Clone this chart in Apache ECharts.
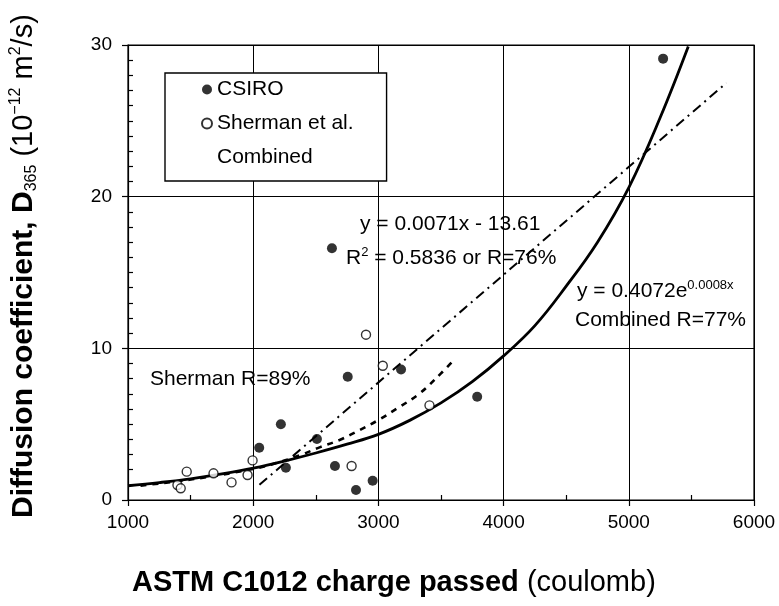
<!DOCTYPE html>
<html><head><meta charset="utf-8">
<script src="https://cdn.jsdelivr.net/npm/echarts@6/dist/echarts.min.js"></script>
<style>html,body{margin:0;padding:0;background:#fff}#chart{width:779px;height:606px}</style>
</head><body><div id="chart"></div>
<script>
// ---- data ----
const xTickValues = [1000, 2000, 3000, 4000, 5000, 6000];
const yTickValues = [0, 10, 20, 30];

const csiroX = [2048, 2221, 2261, 2509, 2629, 2653, 2755, 2821, 2954, 3181, 3789, 5274];
const csiroY = [3.45, 4.99, 2.13, 4.02, 16.6, 2.24, 8.13, 0.66, 1.27, 8.61, 6.81, 29.1];

const shermanX = [1395, 1421, 1469, 1683, 1827, 1955, 1995, 2786, 2901, 3035, 3408];
const shermanY = [0.99, 0.77, 1.87, 1.76, 1.16, 1.65, 2.61, 2.24, 10.9, 8.85, 6.24];

// Combined exponential trend (solid)
const combinedFitX = [1000, 1250, 1500, 1750, 2000, 2250, 2500, 2750, 3000, 3250, 3500, 3750, 4000, 4250, 4500, 4750, 5000, 5250, 5475];
const combinedFitY = [0.94, 1.15, 1.4, 1.72, 2.1, 2.57, 3.1, 3.68, 4.33, 5.25, 6.4, 7.8, 9.5, 11.5, 14.1, 17.0, 20.6, 25.2, 29.9];

// CSIRO linear trend (dash-dot)
const csiroFitX = [2050, 5780];
const csiroFitY = [1.0, 27.5];

// Sherman trend (dashed)
const shermanFitX = [1100, 1500, 2000, 2230, 2380, 2530, 2690, 2850, 3010, 3150, 3330, 3500, 3610];
const shermanFitY = [0.95, 1.35, 2.05, 2.55, 2.97, 3.47, 3.96, 4.61, 5.32, 6.04, 7.03, 8.35, 9.3];

const seriesNames = ['CSIRO', 'Sherman et al.', 'Combined'];

// ---- build ----
const FONT = "'Liberation Sans', Arial, Helvetica, sans-serif";
const zip = (xs, ys) => xs.map((x, i) => [x, ys[i]]);
const xMin = xTickValues[0], xMax = xTickValues[xTickValues.length - 1];
const xInt = xTickValues[1] - xTickValues[0];
const yMin = yTickValues[0], yMax = yTickValues[yTickValues.length - 1];
const yInt = yTickValues[1] - yTickValues[0];

const chart = echarts.init(document.getElementById('chart'), null, { renderer: 'canvas' });
const grid = { left: 128, right: 25, top: 45, bottom: 106, show: true, borderColor: '#000', borderWidth: 1.2, backgroundColor: 'transparent' };

const baseX = { type: 'value', min: xMin, max: xMax, interval: xInt, gridIndex: 0 };
const baseY = { type: 'value', min: yMin, max: yMax, interval: yInt, gridIndex: 0 };
const plain = v => String(v);

const option = {
  animation: false,
  backgroundColor: '#fff',
  grid: grid,
  xAxis: [
    Object.assign({}, baseX, {
      position: 'bottom',
      axisLine: { show: true, lineStyle: { color: '#000', width: 1.2 } },
      axisTick: { show: true, inside: false, length: 6, lineStyle: { color: '#000', width: 1.2 } },
      axisLabel: { color: '#000', fontSize: 19, fontFamily: FONT, margin: 13, formatter: plain },
      splitLine: { show: true, lineStyle: { color: '#000', width: 1 } }
    }),
    Object.assign({}, baseX, {
      position: 'bottom',
      axisLine: { show: false },
      axisTick: { show: false, inside: true },
      axisLabel: { show: false },
      splitLine: { show: false },
      minorTick: { show: true, splitNumber: 2, length: 5, lineStyle: { color: '#000', width: 1.2 } }
    })
  ],
  yAxis: [
    Object.assign({}, baseY, {
      position: 'left',
      axisLine: { show: true, lineStyle: { color: '#000', width: 1.2 } },
      axisTick: { show: true, inside: false, length: 6, lineStyle: { color: '#000', width: 1.2 } },
      axisLabel: { color: '#000', fontSize: 19, fontFamily: FONT, margin: 16, formatter: plain },
      splitLine: { show: true, lineStyle: { color: '#000', width: 1 } }
    }),
    Object.assign({}, baseY, {
      position: 'left',
      axisLine: { show: false },
      axisTick: { show: false, inside: true },
      axisLabel: { show: false },
      splitLine: { show: false },
      minorTick: { show: true, splitNumber: 10, length: 5, lineStyle: { color: '#000', width: 1.2 } }
    })
  ],
  legend: {
    show: true,
    orient: 'vertical',
    left: 165, top: 73,
    padding: [6, 33, 13, 36],
    itemGap: 13,
    itemWidth: 10, itemHeight: 10,
    backgroundColor: '#fff',
    borderColor: '#000', borderWidth: 1.4, borderRadius: 0,
    selectedMode: false,
    textStyle: { color: '#000', fontSize: 21, fontFamily: FONT },
    data: [
      { name: seriesNames[0], icon: 'circle' },
      { name: seriesNames[1], icon: 'circle' },
      { name: seriesNames[2], icon: 'circle', itemStyle: { opacity: 0 }, lineStyle: { opacity: 0 } }
    ]
  },
  series: [
    {
      name: 'CSIRO trend', type: 'line', xAxisIndex: 0, yAxisIndex: 0,
      data: zip(csiroFitX, csiroFitY), showSymbol: false, symbol: 'none',
      lineStyle: { color: '#000', width: 2, type: [10, 5, 2, 5] }, z: 3
    },
    {
      name: 'Sherman trend', type: 'line', xAxisIndex: 0, yAxisIndex: 0,
      data: zip(shermanFitX, shermanFitY), showSymbol: false, symbol: 'none', smooth: 0.4,
      lineStyle: { color: '#000', width: 2.6, type: [6, 6] }, z: 3
    },
    {
      name: seriesNames[2], type: 'line', xAxisIndex: 0, yAxisIndex: 0,
      data: zip(combinedFitX, combinedFitY), showSymbol: false, symbol: 'none', smooth: 0.4,
      lineStyle: { color: '#000', width: 2.8 }, z: 4
    },
    {
      name: seriesNames[0], type: 'scatter', xAxisIndex: 0, yAxisIndex: 0,
      data: zip(csiroX, csiroY), symbol: 'circle', symbolSize: 10,
      itemStyle: { color: '#000' }, z: 5
    },
    {
      name: seriesNames[1], type: 'scatter', xAxisIndex: 0, yAxisIndex: 0,
      data: zip(shermanX, shermanY), symbol: 'circle', symbolSize: 9,
      itemStyle: { color: '#fff', borderColor: '#000', borderWidth: 1.4 }, z: 5
    }
  ],
  graphic: [
    {
      type: 'text', x: 360, y: 224, z: 10,
      style: { text: 'y = 0.0071x - 13.61', fill: '#000', font: '21px ' + FONT, align: 'left', verticalAlign: 'middle' }
    },
    {
      type: 'text', x: 346, y: 258, z: 10,
      style: {
        text: '{n|R}{s|2}{n| = 0.5836 or R=76%}', align: 'left', verticalAlign: 'middle',
        rich: {
          n: { fontSize: 21, fontFamily: FONT, fill: '#000', lineHeight: 24 },
          s: { fontSize: 13, fontFamily: FONT, fill: '#000', verticalAlign: 'top', lineHeight: 14 }
        }
      }
    },
    {
      type: 'text', x: 577, y: 291, z: 10,
      style: {
        text: '{n|y = 0.4072e}{s|0.0008x}', align: 'left', verticalAlign: 'middle',
        rich: {
          n: { fontSize: 21, fontFamily: FONT, fill: '#000', lineHeight: 24 },
          s: { fontSize: 13, fontFamily: FONT, fill: '#000', verticalAlign: 'top', lineHeight: 14 }
        }
      }
    },
    {
      type: 'text', x: 575, y: 320, z: 10,
      style: { text: 'Combined R=77%', fill: '#000', font: '21px ' + FONT, align: 'left', verticalAlign: 'middle' }
    },
    {
      type: 'text', x: 150, y: 379, z: 10,
      style: { text: 'Sherman R=89%', fill: '#000', font: '21px ' + FONT, align: 'left', verticalAlign: 'middle' }
    },
    {
      type: 'text', x: 132, y: 583, z: 10,
      style: {
        text: '{b|ASTM C1012 charge passed}{n| (coulomb)}', align: 'left', verticalAlign: 'middle',
        rich: {
          b: { fontSize: 29, fontWeight: 'bold', fontFamily: FONT, fill: '#000' },
          n: { fontSize: 29, fontFamily: FONT, fill: '#000' }
        }
      }
    },
    {
      type: 'text', x: 24, y: 518, rotation: Math.PI / 2, z: 10,
      style: {
        text: '{b|Diffusion coefficient, D}{sub|365}{n| (10}{sup|\u221212}{n| m}{sup|2}{n|/s)}',
        align: 'left', verticalAlign: 'middle',
        rich: {
          b: { fontSize: 30, fontWeight: 'bold', fontFamily: FONT, fill: '#000', lineHeight: 32 },
          n: { fontSize: 29, fontFamily: FONT, fill: '#000', lineHeight: 32 },
          sub: { fontSize: 16, fontFamily: FONT, fill: '#000', verticalAlign: 'bottom', lineHeight: 16 },
          sup: { fontSize: 16, fontFamily: FONT, fill: '#000', verticalAlign: 'top', lineHeight: 16 }
        }
      }
    }
  ]
};
chart.setOption(option);
</script></body></html>
